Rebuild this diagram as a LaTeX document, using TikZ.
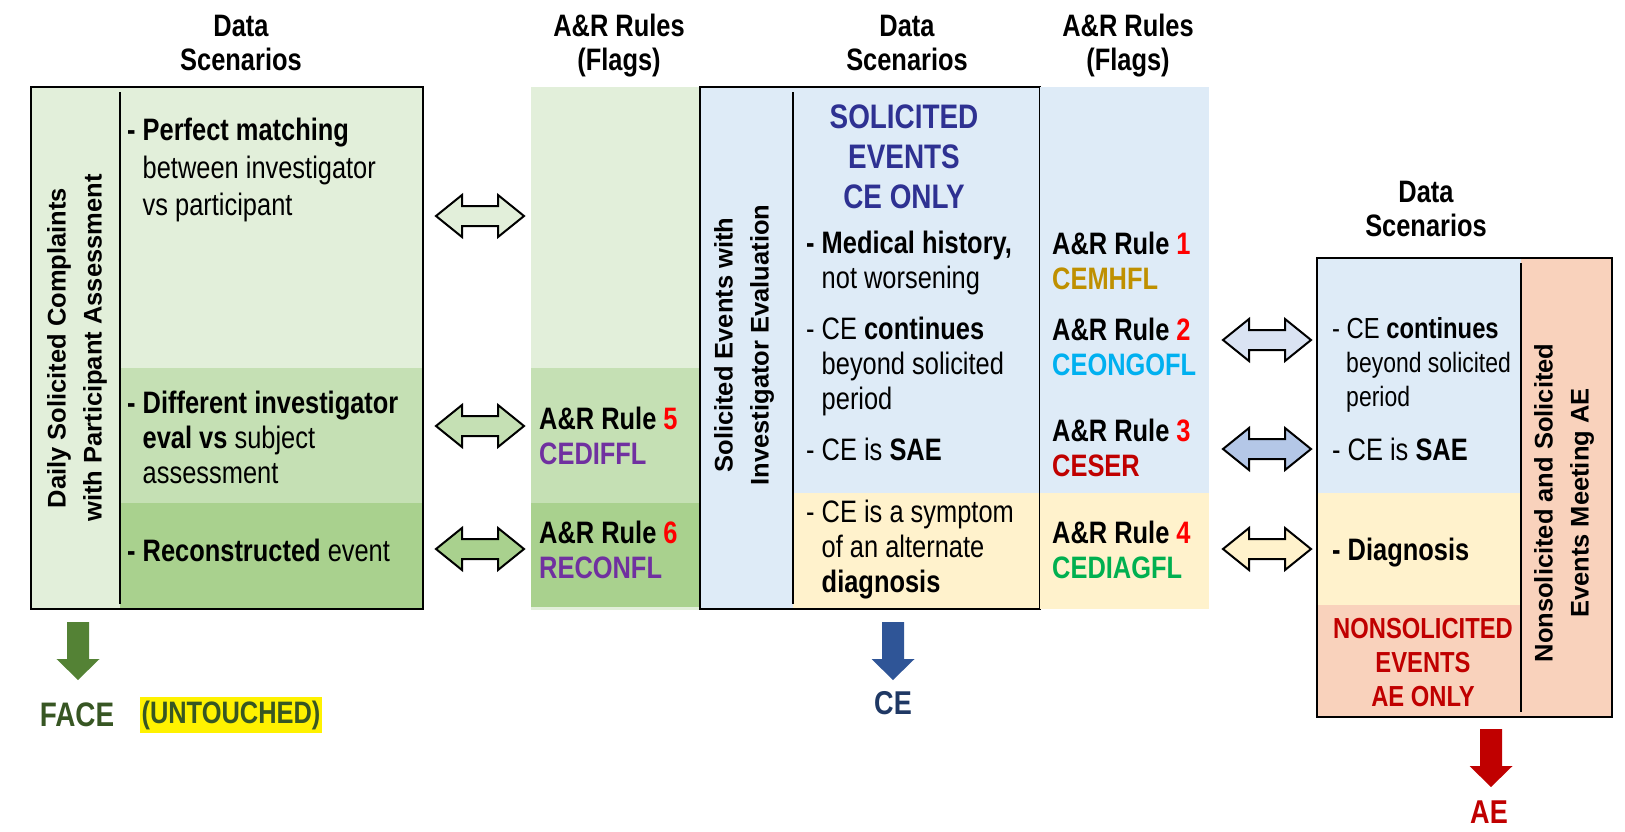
\documentclass[tikz,border=0pt]{standalone}
\usepackage{fontspec}
\setmainfont{Liberation Sans}[FakeStretch=0.82]
\newfontfamily\widesans{Liberation Sans}

% fills
\definecolor{grA}{HTML}{E2EFDA}
\definecolor{grB}{HTML}{C5E0B4}
\definecolor{grC}{HTML}{A9D18E}
\definecolor{blA}{HTML}{DEEBF7}
\definecolor{ylA}{HTML}{FFF2CC}
\definecolor{slA}{HTML}{F9D2BC}
\definecolor{arrLightBlue}{HTML}{DAE3F3}
\definecolor{arrMidBlue}{HTML}{B4C7E7}
% text and arrow colours
\definecolor{navyT}{HTML}{2E3192}
\definecolor{goldT}{HTML}{BF9000}
\definecolor{cyanT}{HTML}{00B0F0}
\definecolor{darkredT}{HTML}{C00000}
\definecolor{greenT}{HTML}{00B050}
\definecolor{purpT}{HTML}{7030A0}
\definecolor{redT}{HTML}{FF0000}
\definecolor{arrGreen}{HTML}{548235}
\definecolor{faceGreen}{HTML}{375623}
\definecolor{arrBlue}{HTML}{2F5597}
\definecolor{ceBlue}{HTML}{1F3864}

\tikzset{
  body/.style={font=\fontsize{31}{35}\selectfont, inner sep=0pt, align=left, anchor=west},
  smallbody/.style={font=\fontsize{28}{34}\selectfont, inner sep=0pt, align=left, anchor=west},
  flag/.style={font=\bfseries\fontsize{31}{35}\selectfont, inner sep=0pt, align=left, anchor=west},
  header/.style={font=\bfseries\fontsize{31}{34}\selectfont, inner sep=0pt, align=center},
  vert/.style={font=\widesans\bfseries\fontsize{25.5}{36}\selectfont, rotate=90, inner sep=0pt, align=center},
  frame/.style={draw=black, line width=2.5pt},
  divider/.style={draw=black, line width=2pt},
  pics/dblarrow/.style={code={
    \path[draw=black, line width=2pt, fill=#1, line join=miter]
      (-44,0) -- (-18,-21) -- (-18,-10) -- (18,-10) -- (18,-21) -- (44,0)
      -- (18,21) -- (18,10) -- (-18,10) -- (-18,21) -- cycle;}},
  pics/downarrow/.style={code={
    \fill[#1] (-11,0) -- (11,0) -- (11,37) -- (21.5,37) -- (0,58)
      -- (-21.5,37) -- (-11,37) -- cycle;}}
}

\begin{document}
\begin{tikzpicture}[x=1pt, y=-1pt]
\useasboundingbox (0,0) rectangle (1625,831);

% ---------- column headers ----------
\node[header] (h1) at (241,43) {Data\\Scenarios};
\node[header] (h2) at (619,46) {A\&R Rules\\(Flags)};
\node[header] (h3) at (907,43) {Data\\Scenarios};
\node[header] (h4) at (1128,46) {A\&R Rules\\(Flags)};
\node[header] (h5) at (1426,209) {Data\\Scenarios};

% ---------- left box: daily solicited complaints ----------
\fill[grA] (31,87) rectangle (423,609);
\fill[grB] (120,368) rectangle (423,503);
\fill[grC] (120,503) rectangle (423,609);
\draw[frame] (31,87) rectangle (423,609);
\draw[divider] (120,92) -- (120,604);
\node[vert] (lv) at (77,348) {Daily Solicited Complaints\\with Participant Assessment};
\node[body, font=\fontsize{31}{37.5}\selectfont] (l1) at (127,170) {\textbf{- Perfect matching}\\\phantom{- }between investigator\\\phantom{- }vs participant};
\node[body] (l2) at (127,437) {\textbf{- Different investigator}\\\phantom{- }\textbf{eval vs} subject\\\phantom{- }assessment};
\node[body] (l3) at (127,550) {\textbf{- Reconstructed} event};

% ---------- first flag column ----------
\fill[grA] (531,87) rectangle (700,368);
\fill[grB] (531,368) rectangle (700,503);
\fill[grC] (531,503) rectangle (700,607);
\fill[grA] (531,607) rectangle (700,610);
\node[flag] (f5) at (539,436) {A\&R Rule \textcolor{redT}{5}\\\textcolor{purpT}{CEDIFFL}};
\node[flag] (f6) at (539,550) {A\&R Rule \textcolor{redT}{6}\\\textcolor{purpT}{RECONFL}};

% ---------- middle box: solicited events ----------
\fill[blA] (700,87) rectangle (1040,609);
\fill[ylA] (793,493) rectangle (1040,609);
\draw[frame] (700,87) rectangle (1040,609);
\draw[divider] (793,92) -- (793,604);
\node[vert] (mv) at (744,345) {Solicited Events with\\Investigator Evaluation};
\node[font=\bfseries\fontsize{34}{40}\selectfont, text=navyT, inner sep=0pt, align=center] (mt) at (904,157) {SOLICITED\\EVENTS\\CE ONLY};
\node[body] (m1) at (806,263) {\textbf{- Medical history,}\\\phantom{- }not worsening};
\node[body] (m2) at (806,366) {- CE \textbf{continues}\\\phantom{- }beyond solicited\\\phantom{- }period};
\node[body] (m3) at (806,449) {- CE is \textbf{SAE}};
\node[body] (m4) at (806,550) {- CE is a symptom\\\phantom{- }of an alternate\\\phantom{- }\textbf{diagnosis}};

% ---------- second flag column ----------
\fill[blA] (1040,87) rectangle (1209,493);
\fill[ylA] (1040,493) rectangle (1209,609);
\node[flag] (r1) at (1052,261) {A\&R Rule \textcolor{redT}{1}\\\textcolor{goldT}{CEMHFL}};
\node[flag] (r2) at (1052,347) {A\&R Rule \textcolor{redT}{2}\\\textcolor{cyanT}{CEONGOFL}};
\node[flag] (r3) at (1052,448) {A\&R Rule \textcolor{redT}{3}\\\textcolor{darkredT}{CESER}};
\node[flag] (r4) at (1052,550) {A\&R Rule \textcolor{redT}{4}\\\textcolor{greenT}{CEDIAGFL}};

% ---------- right box: nonsolicited and solicited events ----------
\fill[blA] (1317,258) rectangle (1521,493);
\fill[ylA] (1317,493) rectangle (1521,605);
\fill[slA] (1317,605) rectangle (1521,717);
\fill[slA] (1521,258) rectangle (1612,717);
\draw[frame] (1317,258) rectangle (1612,717);
\draw[divider] (1521,263) -- (1521,712);
\node[vert] (rv) at (1564,503) {Nonsolicited and Solicited\\Events Meeting AE};
\node[smallbody] (s1) at (1332,365) {\fontsize{29}{34}\selectfont - CE \textbf{continues}\\\phantom{- }beyond solicited\\\phantom{- }period};
\node[body] (s2) at (1332,449) {- CE is \textbf{SAE}};
\node[body] (s3) at (1332,553) {\textbf{- Diagnosis}};
\node[font=\bfseries\fontsize{29}{34}\selectfont, text=darkredT, inner sep=0pt, align=center] (st) at (1423,663) {NONSOLICITED\\EVENTS\\AE ONLY};

% ---------- two-way block arrows ----------
\pic at (480,216) {dblarrow=grA};
\pic at (480,426) {dblarrow=grB};
\pic at (480,549) {dblarrow=grC};
\pic at (1267,340) {dblarrow=arrLightBlue};
\pic at (1267,449) {dblarrow=arrMidBlue};
\pic at (1267,549) {dblarrow=ylA};

% ---------- output arrows ----------
\pic at (78,622) {downarrow=arrGreen};
\pic at (893,622) {downarrow=arrBlue};
\pic at (1491,729) {downarrow=darkredT};
\node[font=\bfseries\fontsize{34}{40}\selectfont, text=faceGreen, inner sep=0pt] (face) at (77,715) {FACE};
\node[font=\bfseries\fontsize{31}{36}\selectfont, text=faceGreen, fill=yellow, inner xsep=2pt, inner ysep=4pt] (untouched) at (231,715) {(UNTOUCHED)};
\node[font=\bfseries\fontsize{33}{40}\selectfont, text=ceBlue, inner sep=0pt] (ce) at (893,703) {CE};
\node[font=\bfseries\fontsize{33}{40}\selectfont, text=darkredT, inner sep=0pt] (ae) at (1489,812) {AE};
\end{tikzpicture}
\end{document}
